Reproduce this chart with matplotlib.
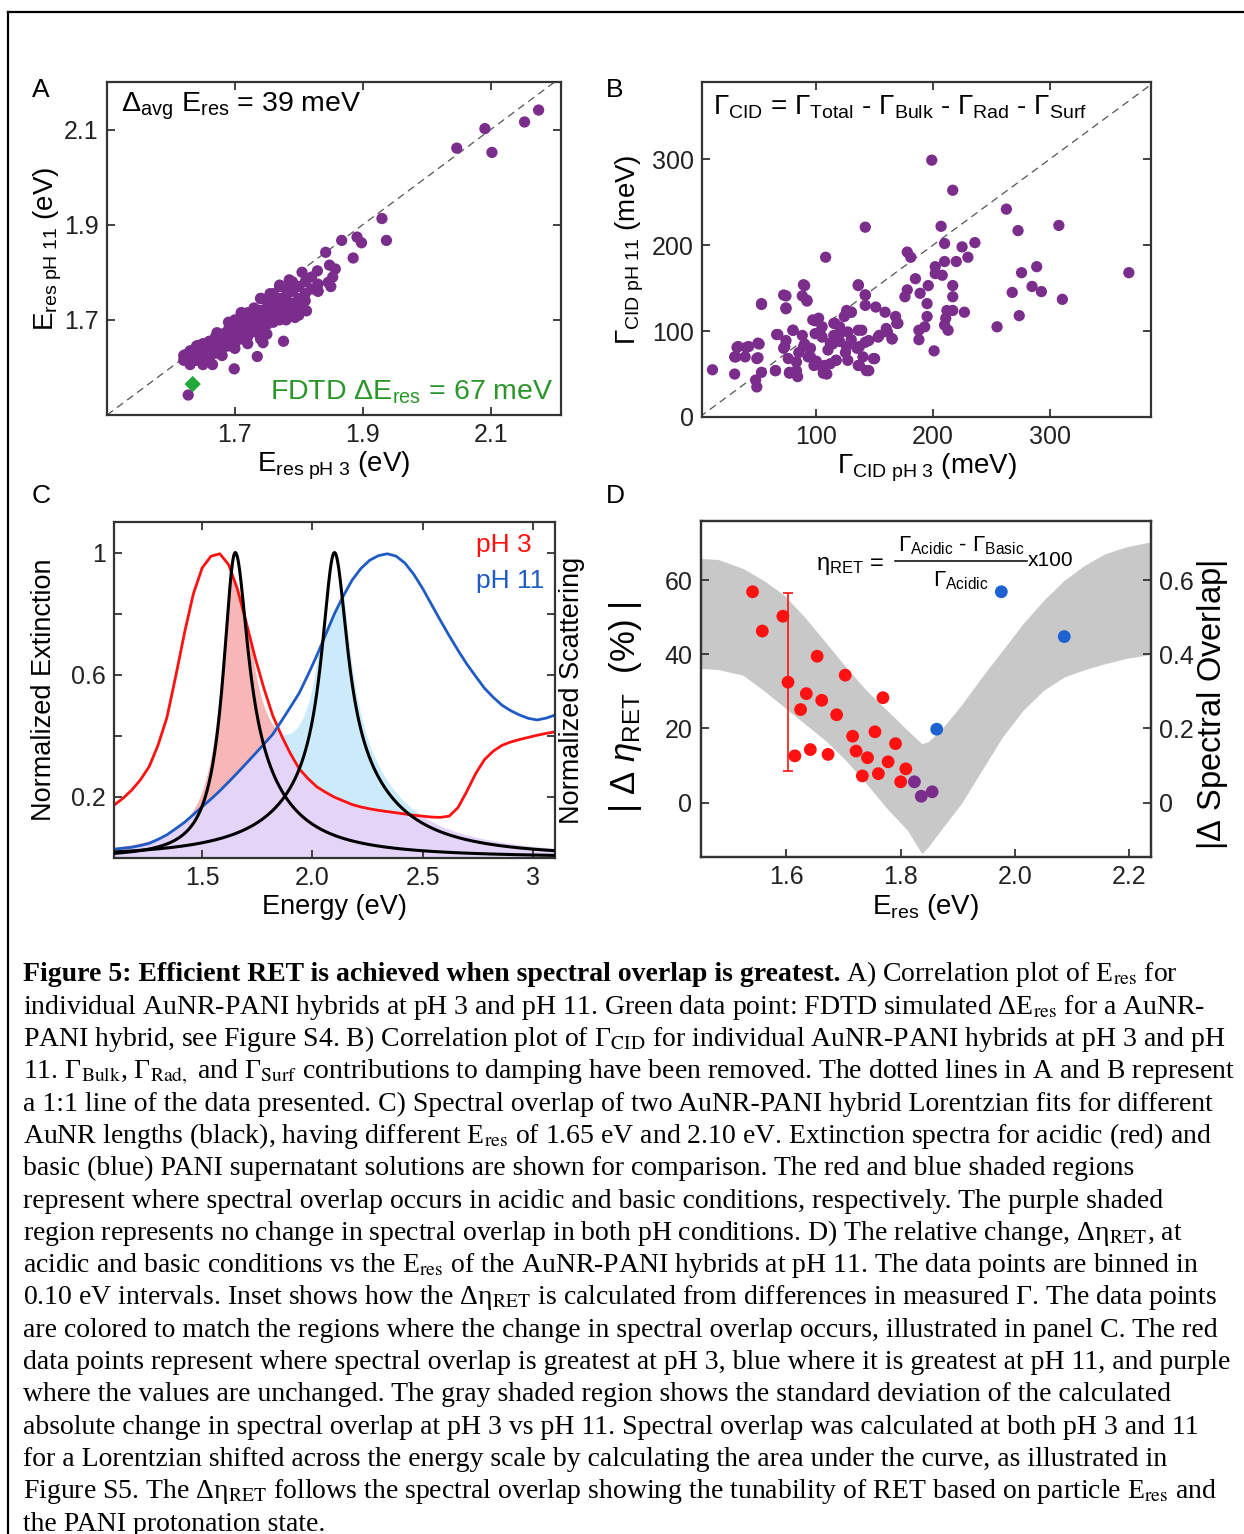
import numpy as np
import matplotlib
matplotlib.use('Agg')
import matplotlib.pyplot as plt
from matplotlib.lines import Line2D

# ---------------- DATA ----------------
# Panel A: E_res pH3 vs pH11 (eV)
A_x = [2.175, 2.153, 2.091, 2.047, 2.102, 1.930, 1.937, 1.867, 1.891, 1.898, 1.885,
       1.842, 1.829, 1.848, 1.857, 1.853, 1.830, 1.846, 1.812, 1.794,
       1.699, 1.735, 1.627, 1.623, 1.630, 1.650, 1.665, 1.776, 1.744,
       1.62, 1.62, 1.63, 1.63, 1.64, 1.64, 1.64, 1.65, 1.65, 1.65, 1.66, 1.66, 1.66,
       1.67, 1.67, 1.67, 1.67, 1.68, 1.68, 1.68, 1.68, 1.69, 1.69, 1.69, 1.69,
       1.70, 1.70, 1.70, 1.70, 1.70, 1.71, 1.71, 1.71, 1.71, 1.71,
       1.72, 1.72, 1.72, 1.72, 1.72, 1.73, 1.73, 1.73, 1.73, 1.73,
       1.74, 1.74, 1.74, 1.74, 1.74, 1.75, 1.75, 1.75, 1.75, 1.75,
       1.76, 1.76, 1.76, 1.76, 1.76, 1.77, 1.77, 1.77, 1.77, 1.77,
       1.78, 1.78, 1.78, 1.78, 1.78, 1.79, 1.79, 1.79, 1.79,
       1.80, 1.80, 1.80, 1.81, 1.81, 1.81, 1.82, 1.82, 1.83,
       1.672, 1.642, 1.710, 1.741, 1.770, 1.785,
       1.70, 1.72, 1.75, 1.78, 1.80, 1.83, 1.85, 1.68, 1.66, 1.74, 1.69, 1.755, 1.805]
A_y = [2.141, 2.116, 2.102, 2.061, 2.052, 1.913, 1.867, 1.867, 1.874, 1.862, 1.830,
       1.842, 1.803, 1.815, 1.807, 1.790, 1.761, 1.779, 1.719, 1.705,
       1.597, 1.623, 1.542, 1.627, 1.606, 1.606, 1.606, 1.655, 1.652,
       1.615, 1.625, 1.620, 1.635, 1.630, 1.645, 1.615, 1.635, 1.650, 1.625, 1.640, 1.655, 1.630,
       1.645, 1.665, 1.630, 1.655, 1.650, 1.670, 1.640, 1.660, 1.660, 1.680, 1.645, 1.670,
       1.665, 1.685, 1.650, 1.675, 1.700, 1.675, 1.695, 1.660, 1.715, 1.685,
       1.680, 1.700, 1.665, 1.690, 1.715, 1.690, 1.710, 1.675, 1.700, 1.725,
       1.695, 1.720, 1.680, 1.745, 1.705, 1.705, 1.725, 1.690, 1.740, 1.715,
       1.710, 1.735, 1.695, 1.755, 1.720, 1.720, 1.745, 1.700, 1.770, 1.730,
       1.730, 1.750, 1.715, 1.765, 1.740, 1.735, 1.760, 1.720, 1.780,
       1.745, 1.770, 1.730, 1.755, 1.780, 1.740, 1.765, 1.790, 1.775,
       1.673, 1.646, 1.715, 1.745, 1.773, 1.784,
       1.640, 1.650, 1.670, 1.700, 1.710, 1.760, 1.770, 1.625, 1.615, 1.660, 1.695, 1.755, 1.800]
FDTD_x = [1.634]
FDTD_y = [1.565]

# Panel B: Gamma_CID pH3 vs pH11 (meV)
B_x = [11, 30, 31, 33, 39, 42, 51, 50, 48, 49, 53, 53, 65, 67, 74, 74, 72, 74, 80, 77, 84,
       90, 88, 92, 88, 83, 93, 99, 102, 108, 99, 105, 107, 109, 116, 114, 117, 124, 130, 127,
       127, 136, 142, 142, 142, 137, 145, 139, 145, 150, 151, 159, 154, 161, 165, 168, 170,
       176, 178, 178, 181, 185, 189, 188, 188, 193, 195, 195, 196, 199, 201, 202, 202, 208,
       207, 210, 210, 211, 210, 213, 212, 217, 217, 217, 217, 220, 225, 227, 230, 236, 255,
       263, 268, 273, 274, 276, 285, 289, 293, 308, 311, 368,
       32, 30, 40, 50, 49, 66, 73, 80, 76, 83, 77, 65, 89, 95, 97, 103, 105, 106, 112, 115,
       117, 120, 126, 126, 136, 137, 136, 143, 142, 149, 153, 160, 165, 169, 72, 74, 89, 92,
       53, 136, 142, 130, 85, 95, 100, 110, 115, 120, 125, 130, 135, 140, 90, 105, 120, 98, 112]
B_y = [55, 50, 70, 82, 70, 82, 85, 69, 43, 35, 52, 131, 54, 96, 141, 127, 80, 89, 101, 52, 47,
       153, 141, 135, 95, 64, 70, 112, 115, 186, 97, 93, 60, 50, 109, 85, 66, 117, 122, 66,
       99, 153, 142, 221, 130, 60, 54, 101, 89, 68, 128, 122, 95, 99, 91, 117, 109,
       140, 148, 192, 186, 161, 144, 101, 90, 105, 117, 132, 153, 299, 77, 175, 167, 165,
       222, 202, 181, 115, 107, 101, 124, 264, 153, 140, 124, 181, 198, 122, 186, 203, 105,
       242, 145, 217, 118, 168, 152, 175, 146, 223, 137, 168,
       81, 70, 81, 86, 68, 96, 82, 101, 68, 54, 51, 54, 82, 70, 113, 99, 58, 51, 86, 109,
       66, 97, 124, 82, 101, 82, 60, 54, 87, 68, 93, 103, 91, 109, 142, 126, 154, 136,
       132, 154, 142, 122, 75, 80, 65, 78, 95, 88, 75, 90, 80, 70, 85, 105, 105, 60, 62]

# Panel C: extinction spectra (energy grid, eV)
C_energy = [1.10, 1.14, 1.18, 1.22, 1.26, 1.30, 1.34, 1.38, 1.42, 1.46, 1.50, 1.54, 1.58,
            1.62, 1.66, 1.70, 1.74, 1.78, 1.82, 1.86, 1.90, 1.94, 1.98, 2.02, 2.06, 2.10,
            2.14, 2.18, 2.22, 2.26, 2.30, 2.34, 2.38, 2.42, 2.46, 2.50, 2.54, 2.58, 2.62,
            2.66, 2.70, 2.74, 2.78, 2.82, 2.86, 2.90, 2.94, 2.98, 3.02, 3.06, 3.10]
C_ph3 = [0.173, 0.195, 0.222, 0.256, 0.300, 0.370, 0.460, 0.595, 0.738, 0.865, 0.950, 0.988, 0.996,
         0.960, 0.880, 0.770, 0.656, 0.555, 0.466, 0.400, 0.342, 0.292, 0.260, 0.233, 0.215, 0.199,
         0.187, 0.175, 0.167, 0.161, 0.156, 0.152, 0.148, 0.144, 0.140, 0.137, 0.134, 0.133, 0.137,
         0.165, 0.218, 0.276, 0.322, 0.350, 0.369, 0.380, 0.388, 0.395, 0.402, 0.408, 0.413]
C_ph11 = [0.029, 0.032, 0.035, 0.041, 0.048, 0.061, 0.076, 0.096, 0.117, 0.142, 0.168, 0.193, 0.220,
          0.249, 0.279, 0.310, 0.341, 0.373, 0.405, 0.449, 0.494, 0.540, 0.600, 0.663, 0.732, 0.800,
          0.858, 0.910, 0.948, 0.975, 0.990, 0.996, 0.988, 0.965, 0.928, 0.882, 0.830, 0.778, 0.728,
          0.680, 0.635, 0.595, 0.556, 0.526, 0.500, 0.482, 0.468, 0.457, 0.452, 0.458, 0.468]
# Lorentzian fits: centre (eV), core half-width, wing half-width, wing weight (low / high energy side)
lor_center = [1.65, 2.10]
lor_core = [0.068, 0.070]
lor_wing = [0.23, 0.28]
lor_wlo = [0.0, 0.22]
lor_whi = [0.28, 0.28]

# Panel D
D_red_x = [1.541, 1.558, 1.594, 1.603, 1.615, 1.625, 1.635, 1.642, 1.654, 1.662, 1.673, 1.688,
           1.703, 1.716, 1.722, 1.733, 1.742, 1.755, 1.761, 1.769, 1.778, 1.791, 1.800, 1.809]
D_red_y = [56.9, 46.3, 50.3, 32.5, 12.6, 25.1, 29.4, 14.3, 39.5, 27.6, 13.0, 23.7,
           34.4, 17.9, 13.9, 7.2, 12.1, 19.1, 7.8, 28.3, 11.0, 15.9, 5.6, 9.1]
D_pur_x = [1.824, 1.836, 1.855]
D_pur_y = [5.6, 1.7, 2.9]
D_blue_x = [1.863, 1.976, 2.086]
D_blue_y = [19.8, 56.9, 44.8]
D_err_x = [1.603]
D_err_y = [32.5]
D_err = [24.0]
band_x = [1.449, 1.481, 1.524, 1.560, 1.596, 1.632, 1.668, 1.704, 1.740, 1.776, 1.812, 1.837,
          1.848, 1.870, 1.906, 1.942, 1.978, 2.014, 2.050, 2.086, 2.122, 2.158, 2.194, 2.238]
band_hi = [0.659, 0.656, 0.632, 0.600, 0.560, 0.501, 0.434, 0.366, 0.303, 0.249, 0.195, 0.159,
           0.164, 0.195, 0.263, 0.339, 0.411, 0.483, 0.546, 0.600, 0.641, 0.672, 0.690, 0.704]
band_lo = [0.362, 0.359, 0.344, 0.303, 0.258, 0.213, 0.168, 0.114, 0.051, -0.016, -0.075, -0.138,
           -0.120, -0.075, -0.003, 0.087, 0.177, 0.249, 0.303, 0.339, 0.359, 0.375, 0.389, 0.400]

# ---------------- STYLE ----------------
plt.rcParams['font.family'] = ['Liberation Sans', 'DejaVu Sans']
plt.rcParams['mathtext.fontset'] = 'custom'
plt.rcParams['mathtext.rm'] = 'Liberation Sans'
plt.rcParams['mathtext.it'] = 'Liberation Sans:italic'
plt.rcParams['mathtext.bf'] = 'Liberation Sans:bold'

W, H = 1244, 1534
fig = plt.figure(figsize=(W / 100, H / 100), dpi=100)


def F(x, y):
    return (x / W, 1 - y / H)


def axrect(l, t, r, b):
    return [l / W, 1 - b / H, (r - l) / W, (b - t) / H]


SP = '#333333'
PURPLE = '#7B2D8C'
TICK = 18
LAB = 19.5


def style(ax, top=True, right=True):
    for s in ax.spines.values():
        s.set_color(SP)
        s.set_linewidth(1.6)
    ax.tick_params(which='both', direction='in', length=6, width=1.3, color=SP,
                   labelsize=TICK, top=top, right=right, pad=6, labelcolor='#222222')


# ---------------- PANEL A ----------------
axA = fig.add_axes(axrect(107, 82, 561, 415))
axA.plot([1.5, 2.21], [1.5, 2.21], ls=(0, (6, 4)), color='#555555', lw=0.9, zorder=1)
axA.scatter(A_x, A_y, s=66, color=PURPLE, edgecolors='none', zorder=2)
axA.scatter(FDTD_x, FDTD_y, s=70, marker='D', color='#22A83A', edgecolors='none', zorder=3)
axA.set_xlim(1.5, 2.21)
axA.set_ylim(1.5, 2.2)
axA.set_xticks([1.7, 1.9, 2.1])
axA.set_yticks([1.7, 1.9, 2.1])
style(axA)
axA.set_xlabel(r'E$_{\rm res\ pH\ 3}$ (eV)', fontsize=20, labelpad=2)
axA.set_ylabel(r'E$_{\rm res\ pH\ 11}$ (eV)', fontsize=20, labelpad=0)
fig.text(*F(121, 106), r'$\Delta_{\rm avg}$ E$_{\rm res}$ = 39 meV', fontsize=20.5, va='center', ha='left')
fig.text(*F(553, 392), r'FDTD $\Delta$E$_{\rm res}$ = 67 meV', fontsize=20.5, va='center', ha='right',
         color='#2A962A')

# ---------------- PANEL B ----------------
axB = fig.add_axes(axrect(702, 82, 1151, 417))
axB.plot([0, 390], [0, 390], ls=(0, (6, 4)), color='#555555', lw=0.9, zorder=1)
axB.scatter(B_x, B_y, s=66, color=PURPLE, edgecolors='none', zorder=2)
axB.set_xlim(2, 387)
axB.set_ylim(0, 390)
axB.set_xticks([100, 200, 300])
axB.set_yticks([0, 100, 200, 300])
style(axB)
axB.set_xlabel(r'Γ$_{\rm CID\ pH\ 3}$ (meV)', fontsize=20, labelpad=2)
axB.set_ylabel(r'Γ$_{\rm CID\ pH\ 11}$ (meV)', fontsize=20, labelpad=4)
fig.text(*F(713, 107), r'Γ$_{\rm CID}$ = Γ$_{\rm Total}$ - Γ$_{\rm Bulk}$ - Γ$_{\rm Rad}$ - Γ$_{\rm Surf}$',
         fontsize=20, va='center', ha='left')

# ---------------- PANEL C ----------------
axC = fig.add_axes(axrect(114, 522, 555, 858))
xe = np.linspace(1.1, 3.1, 2001)
red = np.interp(xe, C_energy, C_ph3)
blue = np.interp(xe, C_energy, C_ph11)
lors = []
for c, gc, gw, wlo, whi in zip(lor_center, lor_core, lor_wing, lor_wlo, lor_whi):
    d2 = (xe - c) ** 2
    ww = np.where(xe < c, wlo, whi)
    lors.append((1 - ww) * gc ** 2 / (d2 + gc ** 2) + ww * gw ** 2 / (d2 + gw ** 2))
L = lors[0] + lors[1]
p = np.minimum(np.minimum(L, red), blue)
axC.fill_between(xe, 0, p, color='#E4D4F8', lw=0, zorder=1)
axC.fill_between(xe, p, np.minimum(L, red), color='#F8B6B6', lw=0, zorder=1)
axC.fill_between(xe, p, np.minimum(L, blue), color='#CBEBFB', lw=0, zorder=1)
axC.plot(C_energy, C_ph3, color='#FF1111', lw=2.0, zorder=2)
axC.plot(C_energy, C_ph11, color='#1F5BC4', lw=2.0, zorder=2)
for l in lors:
    axC.plot(xe, l, color='black', lw=2.2, zorder=3)
axC.set_xlim(1.1, 3.1)
axC.set_ylim(0, 1.1)
axC.set_xticks([1.5, 2.0, 2.5, 3.0], labels=['1.5', '2.0', '2.5', '3'])
axC.set_yticks([0.2, 0.6, 1.0], labels=['0.2', '0.6', '1'])
axC.set_yticks([0.4, 0.8], minor=True)
style(axC)
axC.set_xlabel('Energy (eV)', fontsize=LAB, labelpad=3)
axC.set_ylabel('Normalized Extinction', fontsize=LAB, labelpad=10)
fig.text(*F(572, 690), 'Normalized Scattering', fontsize=LAB, rotation=90, va='center', ha='center')
fig.text(*F(476, 545), 'pH 3', fontsize=19, color='#FF1111', va='center', ha='left')
fig.text(*F(476, 581), 'pH 11', fontsize=19, color='#1F5BC4', va='center', ha='left')

# ---------------- PANEL D ----------------
axD = fig.add_axes(axrect(700.5, 521, 1150.6, 857))
axD2 = axD.twinx()
axD2.fill_between(band_x, band_lo, band_hi, color='#C8C8C8', lw=0)
axD2.set_ylim(-0.147, 0.76)
axD.set_zorder(axD2.get_zorder() + 1)
axD.patch.set_visible(False)
axD.errorbar(D_err_x, D_err_y, yerr=[D_err, D_err], fmt='none', ecolor='#FF1111', elinewidth=1.2,
             capsize=3.5, capthick=1.2, zorder=2)
axD.scatter(D_red_x, D_red_y, s=85, color='#FF1111', edgecolors='none', zorder=3)
axD.scatter(D_pur_x, D_pur_y, s=85, color=PURPLE, edgecolors='none', zorder=3)
axD.scatter(D_blue_x, D_blue_y, s=85, color='#1E62D2', edgecolors='none', zorder=3)
axD.set_xlim(1.45, 2.237)
axD.set_ylim(-14.7, 76)
axD.set_xticks([1.6, 1.8, 2.0, 2.2])
axD.set_yticks([0, 20, 40, 60])
axD2.set_yticks([0, 0.2, 0.4, 0.6], labels=['0', '0.2', '0.4', '0.6'])
style(axD, top=False, right=False)
style(axD2, top=False, right=True)
axD2.tick_params(left=False)
axD.set_xlabel(r'E$_{\rm res}$ (eV)', fontsize=20, labelpad=2)
# y labels placed by their centres in figure pixels
fig.text(*F(626, 707), r'$\left|\ \mathit{\Delta}\ \eta_{\rm RET}\ \ \mathrm{(\%)}\ \right|$',
         fontsize=25, rotation=90, va='center', ha='center')
fig.text(*F(1213, 705), r'$\left|\mathit{\Delta}\ \mathrm{Spectral\ Overlap}\right|$',
         fontsize=23.5, rotation=90, va='center', ha='center')
fig.text(*F(850, 566), r'η$_{\rm RET}$ =', fontsize=17, va='center', ha='center')
fig.add_artist(Line2D([895 / W, 1027 / W], [1 - 560.5 / H] * 2, color='black', lw=1.1))
fig.text(*F(961, 546), r'Γ$_{\rm Acidic}$ - Γ$_{\rm Basic}$', fontsize=16, va='center', ha='center')
fig.text(*F(961, 581), r'Γ$_{\rm Acidic}$', fontsize=16, va='center', ha='center')
fig.text(*F(1028, 560), 'x100', fontsize=15, va='center', ha='left')

# panel letters
for lab, (x, y) in zip('ABCD', [(41, 90), (615, 90), (41, 496), (615, 496)]):
    fig.text(*F(x, y), lab, fontsize=19, va='center', ha='center')

# ---------------- border ----------------
fig.add_artist(Line2D([8 / W, 1.0], [1 - 12 / H] * 2, color='black', lw=1.6))
fig.add_artist(Line2D([8 / W, 8 / W], [0, 1 - 12 / H], color='black', lw=1.6))

# ---------------- caption ----------------
serif = ['Liberation Serif', 'DejaVu Serif']
CAP = 20
lines = [
    None,
    r'individual AuNR-PANI hybrids at pH 3 and pH 11. Green data point: FDTD simulated ΔE$_{\rm res}$ for a AuNR-',
    r'PANI hybrid, see Figure S4. B) Correlation plot of Γ$_{\rm CID}$ for individual AuNR-PANI hybrids at pH 3 and pH',
    r'11. Γ$_{\rm Bulk}$, Γ$_{\rm Rad,}$ and Γ$_{\rm Surf}$ contributions to damping have been removed. The dotted lines in A and B represent',
    r'a 1:1 line of the data presented. C) Spectral overlap of two AuNR-PANI hybrid Lorentzian fits for different',
    r'AuNR lengths (black), having different E$_{\rm res}$ of 1.65 eV and 2.10 eV. Extinction spectra for acidic (red) and',
    r'basic (blue) PANI supernatant solutions are shown for comparison. The red and blue shaded regions',
    r'represent where spectral overlap occurs in acidic and basic conditions, respectively. The purple shaded',
    r'region represents no change in spectral overlap in both pH conditions. D) The relative change, Δη$_{\rm RET}$, at',
    r'acidic and basic conditions vs the E$_{\rm res}$ of the AuNR-PANI hybrids at pH 11. The data points are binned in',
    r'0.10 eV intervals. Inset shows how the Δη$_{\rm RET}$ is calculated from differences in measured Γ. The data points',
    r'are colored to match the regions where the change in spectral overlap occurs, illustrated in panel C. The red',
    r'data points represent where spectral overlap is greatest at pH 3, blue where it is greatest at pH 11, and purple',
    r'where the values are unchanged. The gray shaded region shows the standard deviation of the calculated',
    r'absolute change in spectral overlap at pH 3 vs pH 11. Spectral overlap was calculated at both pH 3 and 11',
    r'for a Lorentzian shifted across the energy scale by calculating the area under the curve, as illustrated in',
    r'Figure S5. The Δη$_{\rm RET}$ follows the spectral overlap showing the tunability of RET based on particle E$_{\rm res}$ and',
    r'the PANI protonation state.',
]
b0, dy = 981.5, 32.3
renderer = fig.canvas.get_renderer()
t1 = fig.text(*F(23, b0), 'Figure 5: Efficient RET is achieved when spectral overlap is greatest.',
              fontsize=CAP, family=serif, weight='bold', va='baseline', ha='left')
bb = t1.get_window_extent(renderer)
fig.text(bb.x1 / W + 5 / W, 1 - b0 / H, r'A) Correlation plot of E$_{\rm res}$ for',
         fontsize=CAP, family=serif, va='baseline', ha='left', math_fontfamily='stix')
for i, s in enumerate(lines):
    if s is None:
        continue
    fig.text(*F(23, b0 + i * dy), s, fontsize=CAP, family=serif, va='baseline', ha='left',
             math_fontfamily='stix')

fig.savefig('out.png', dpi=100)
